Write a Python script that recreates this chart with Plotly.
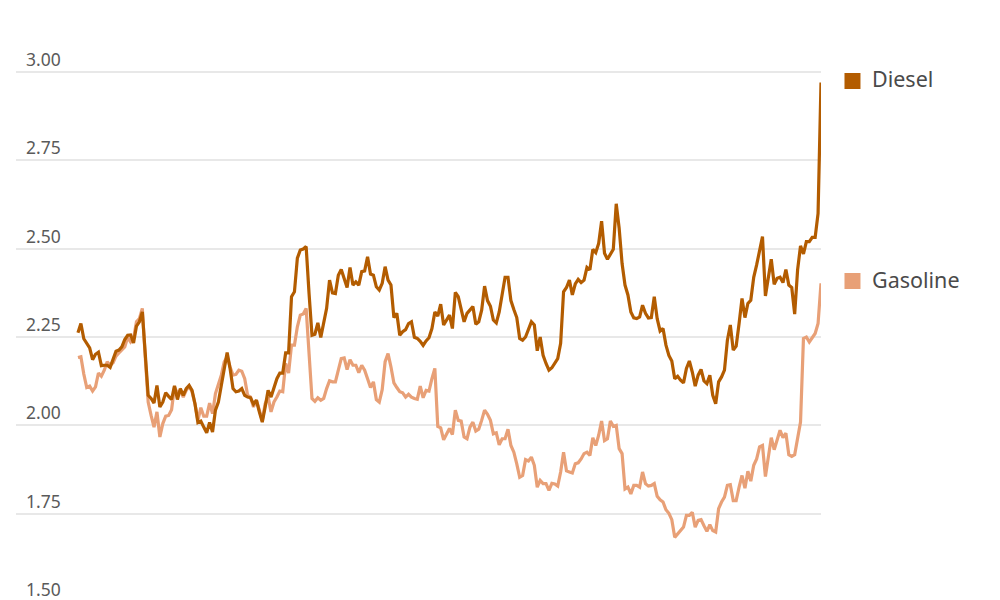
import plotly.graph_objects as go

diesel = [
2.262,2.288,2.245,2.23,2.219,2.186,2.201,2.207,2.169,2.17,2.17,2.164,2.189,2.21,2.213,2.222,2.243,2.255,2.256,
2.233,2.281,2.293,2.321,2.203,2.085,2.076,2.063,2.113,2.052,2.066,2.092,2.082,2.073,2.112,2.073,2.104,2.085,2.104,2.113,
2.099,2.061,2.008,2.012,1.995,1.979,2.008,1.981,2.043,2.066,2.113,2.165,2.206,2.161,2.104,2.095,2.097,2.104,2.085,2.08,
2.078,2.06,2.071,2.038,2.009,2.052,2.099,2.08,2.104,2.132,2.148,2.148,2.205,2.205,2.364,2.378,2.473,2.496,2.499,2.506,
2.373,2.255,2.258,2.29,2.249,2.288,2.331,2.411,2.375,2.373,2.425,2.441,2.416,2.39,2.447,2.397,2.406,2.397,2.435,2.437,
2.477,2.428,2.425,2.392,2.383,2.402,2.449,2.411,2.397,2.305,2.317,2.255,2.265,2.271,2.288,2.293,2.249,2.246,2.238,2.226,
2.239,2.248,2.274,2.321,2.309,2.343,2.284,2.3,2.312,2.274,2.376,2.364,2.331,2.293,2.317,2.326,2.336,2.286,2.293,2.326,
2.394,2.353,2.337,2.298,2.29,2.321,2.369,2.419,2.419,2.353,2.328,2.305,2.246,2.241,2.25,2.274,2.293,2.284,2.211,2.25,
2.198,2.175,2.156,2.163,2.175,2.189,2.232,2.378,2.39,2.411,2.369,2.4,2.413,2.404,2.411,2.447,2.44,2.498,2.489,2.515,
2.578,2.487,2.47,2.485,2.498,2.627,2.558,2.458,2.397,2.369,2.321,2.304,2.302,2.307,2.34,2.317,2.304,2.305,2.364,2.302,
2.267,2.274,2.227,2.198,2.182,2.132,2.139,2.128,2.12,2.161,2.182,2.151,2.111,2.142,2.158,2.126,2.118,2.142,2.085,2.061,
2.123,2.137,2.156,2.241,2.284,2.213,2.224,2.288,2.359,2.305,2.345,2.354,2.419,2.454,2.491,2.534,2.366,2.416,2.47,2.399,
2.416,2.419,2.404,2.441,2.397,2.39,2.315,2.44,2.508,2.485,2.52,2.52,2.532,2.532,2.60,2.97]

gasoline = [
2.192,2.194,2.145,2.107,2.111,2.097,2.109,2.148,2.139,2.156,2.18,2.17,2.177,2.196,2.205,2.213,2.222,2.249,2.236,
2.246,2.293,2.302,2.331,2.194,2.066,2.028,1.995,2.038,1.967,2.005,2.026,2.028,2.044,2.109,2.09,2.099,2.08,2.099,2.111,
2.095,2.061,2.014,2.05,2.026,2.026,2.063,2.033,2.09,2.118,2.142,2.18,2.194,2.165,2.142,2.144,2.156,2.153,2.132,2.085,
2.08,2.052,2.071,2.043,2.014,2.061,2.08,2.038,2.066,2.08,2.097,2.095,2.175,2.148,2.227,2.227,2.279,2.312,2.315,2.331,
2.213,2.076,2.068,2.078,2.071,2.076,2.104,2.126,2.123,2.123,2.156,2.189,2.191,2.158,2.186,2.17,2.17,2.149,2.17,2.156,
2.132,2.107,2.123,2.073,2.066,2.101,2.18,2.203,2.165,2.12,2.107,2.095,2.092,2.08,2.088,2.08,2.076,2.074,2.111,2.078,
2.099,2.097,2.132,2.161,1.997,1.993,1.959,1.976,1.991,1.974,2.043,2.014,2.012,1.967,1.962,1.995,2.009,1.984,1.989,2.014,
2.043,2.031,2.014,1.976,1.979,1.945,1.962,1.962,1.989,1.943,1.924,1.891,1.853,1.858,1.903,1.899,1.91,1.887,1.825,1.844,
1.835,1.835,1.816,1.836,1.834,1.828,1.868,1.924,1.871,1.868,1.865,1.891,1.894,1.905,1.92,1.924,1.915,1.965,1.943,1.972,
2.012,1.957,1.962,2.012,1.997,2.0,1.934,1.92,1.82,1.825,1.806,1.83,1.83,1.825,1.868,1.835,1.828,1.83,1.835,1.799,
1.789,1.783,1.761,1.751,1.733,1.683,1.693,1.702,1.712,1.745,1.745,1.754,1.712,1.731,1.733,1.716,1.7,1.719,1.702,1.698,
1.764,1.783,1.797,1.83,1.832,1.787,1.787,1.825,1.858,1.822,1.87,1.842,1.887,1.905,1.939,1.943,1.855,1.91,1.965,1.931,
1.957,1.986,1.965,1.978,1.917,1.912,1.917,1.962,2.009,2.246,2.25,2.236,2.25,2.26,2.288,2.402]

tick_values = [1.5, 1.75, 2.0, 2.25, 2.5, 2.75, 3.0]
tick_labels = ["1.50", "1.75", "2.00", "2.25", "2.50", "2.75", "3.00"]
series_names = ["Diesel", "Gasoline"]

DIESEL_COLOR = "#b35c00"
GAS_COLOR = "#e8a077"
FONT = "Noto Sans"
W, H = 1000, 602
L, R, T = 16, 821.5, 62
Y_TOP = 3.0 + 10 / (530 / 1.5)

def px(x):
    return (x - L) / (R - L)

def py(y):
    return (H - y) / (H - T)

n = len(diesel)
weeks = list(range(n))
step = (R - 78) / (n - 1)

fig = go.Figure()
fig.add_trace(go.Scatter(x=weeks, y=gasoline, mode="lines", name="Gasoline",
                         line=dict(color=GAS_COLOR, width=3.2, shape="linear"), cliponaxis=False))
fig.add_trace(go.Scatter(x=weeks, y=diesel, mode="lines", name="Diesel",
                         line=dict(color=DIESEL_COLOR, width=3.2, shape="linear"), cliponaxis=False))

annotations = []
for v, t in zip(tick_values, tick_labels):
    annotations.append(dict(x=0, xref="paper", xanchor="left", xshift=8, y=v, yref="y",
                            yanchor="bottom", yshift=-1, text=t, showarrow=False,
                            font=dict(family=FONT, size=17.5, color="#5a5a5a")))

shapes = []
for name, color, top in zip(series_names, [DIESEL_COLOR, GAS_COLOR], [73, 273]):
    shapes.append(dict(type="rect", xref="paper", yref="paper", x0=px(845), x1=px(861),
                       y0=py(top), y1=py(top + 16), fillcolor=color, line=dict(width=0)))
    annotations.append(dict(x=px(871), xref="paper", xanchor="left", y=py(top + 6), yref="paper",
                            yanchor="middle", text=name, showarrow=False,
                            font=dict(family=FONT, size=21.5, color="#4a4a4a")))

fig.update_layout(
    width=W, height=H, margin=dict(l=L, r=W - R, t=T, b=0, pad=0),
    paper_bgcolor="white", plot_bgcolor="white", showlegend=False,
    xaxis=dict(range=[-(78 - L) / step, n - 1], visible=False, fixedrange=True),
    yaxis=dict(range=[1.5, Y_TOP], tickvals=tick_values, showticklabels=False,
               gridcolor="#e8e8e8", gridwidth=1.5, zeroline=False, showline=False, ticks="", fixedrange=True),
    annotations=annotations, shapes=shapes,
)

fig.write_html("out.html", config={"displayModeBar": False},
               post_script="document.body.style.margin='0';document.documentElement.style.overflow='hidden';document.body.style.overflow='hidden';")
